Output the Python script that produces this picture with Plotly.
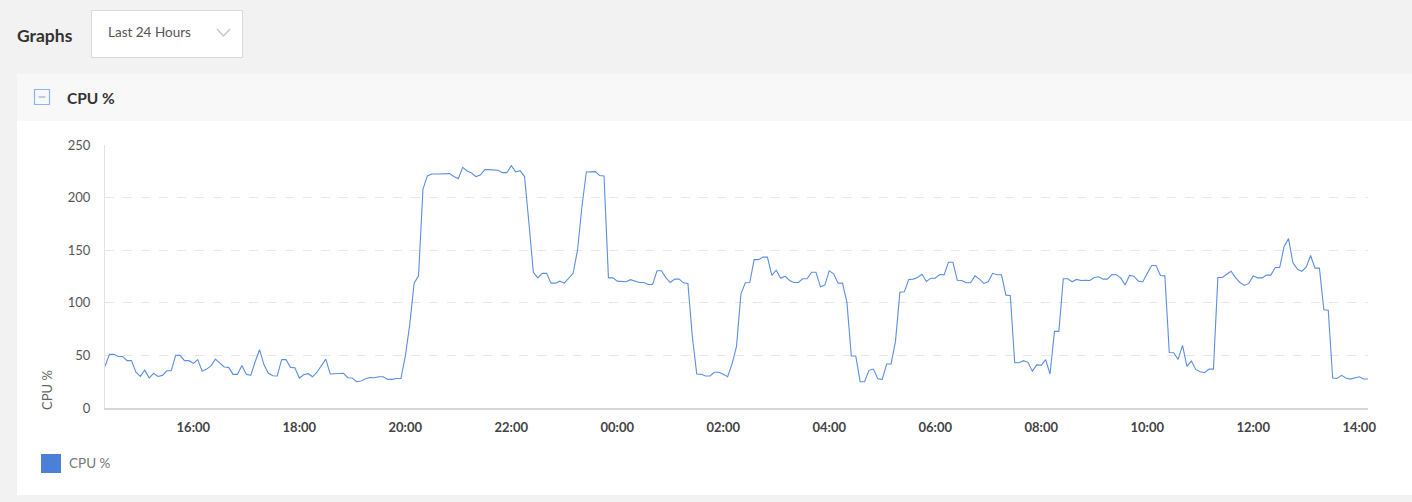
import pandas as pd
import plotly.graph_objects as go

# ---- data ----
start_time = "2024-01-01 14:20"
interval = "5min"
cpu_values = [
    39.6, 51, 51, 49, 49, 45, 45, 34, 30, 36, 28.5, 33, 30, 31, 35.4, 35.4, 50, 50, 45, 45,
    42.4, 46, 35, 37, 40, 46.5, 42.7, 39, 38.6, 32, 32, 40.5, 32, 31, 44, 55.4, 41, 33,
    30.7, 30.4, 46, 46, 38.6, 38.3, 28.5, 31.6, 32.6, 29.7, 34, 40.5, 46.5, 32.3, 32.3, 33,
    33, 28.8, 28.5, 25, 25.6, 27.8, 29, 28.8, 29.7, 29.7, 27.2, 27.2, 28, 28, 49, 79, 118.7,
    125.6, 208, 220.6, 222.5, 222.5, 222.5,
    222.8, 222.8, 220, 218, 228.8, 225.3, 223.4, 220, 221.5, 226.6, 226.6, 226, 226, 223.7,
    223.7, 230.4, 224.4, 225.6, 220, 175.6, 129, 123.7, 128, 128, 118.7, 118.7, 120.6, 118.7,
    123.4, 128, 150, 191.5, 224.4, 224.7, 224.7, 221, 220.6, 123.7,
    123.7, 120.6, 120, 120, 122, 121, 119.3, 119.3, 117.4, 117.4, 130.4, 130.4, 124, 119.3,
    122.5, 122.5, 119, 118.4, 68, 32.3, 32, 30.4, 30.4, 34, 34, 32, 29.7, 42, 58.5, 108.5,
    119, 119.3, 141, 141, 143.4, 143.4, 126, 131, 123.4,
    125.3, 121.2, 119.3, 119.3, 122.8, 122.8, 129, 129, 115.2, 116.8, 130.4, 127.5, 118.7,
    118.7, 100.6, 49.4, 49.4, 25, 25, 35.8, 37, 27.8, 27.2, 41.8, 41.8, 63.3, 110, 110.4,
    122.2, 122.5, 124, 127.2, 120.2, 123.4, 123.4, 126.9, 126.6, 138.6,
    138.6, 121.5, 121.2, 119, 119, 125.6, 122.5, 118.4, 120, 128, 126.6, 126.6, 107.3, 107,
    43, 43, 45, 43.4, 35, 41, 40.5, 46, 32.3, 72.8, 72.8, 122.8, 122.8, 120, 122.2, 121.2,
    121.5, 121.2, 124, 124.7, 122.5, 122.5, 126.9, 126.6,
    123.7, 117, 126, 125.3, 120.6, 120, 127.8, 135.4, 135.4, 126, 125.6, 52.8, 52.5, 46.2,
    59.5, 39.6, 44.6, 36.7, 34.5, 33.5, 37, 37, 124, 124, 127.2, 130, 124, 119.3, 116.5,
    118.4, 125.6, 123.7, 123.7, 126.3, 126.3, 133.5, 133.5, 153.5, 161,
    138, 132, 130, 133.9, 145, 133, 133, 93.4, 93, 28.5, 28, 31, 28.5, 27.5, 28.5, 29.7,
    27.5, 27.5,
]
y_ticks = [0, 50, 100, 150, 200, 250]
series_name = "CPU %"
panel_title = "CPU %"
page_title = "Graphs"
range_label = "Last 24 Hours"

times = pd.date_range(start_time, periods=len(cpu_values), freq=interval)

# ---- layout geometry (pixels) ----
W, H = 1412, 502
L, R, T, B = 105, 44, 145, 94
PW, PH = W - L - R, H - T - B


def px(x):
    return (x - L) / PW


def py(y):
    return 1 - (y - T) / PH


FONT = "Lato, 'Open Sans', sans-serif"
LINE_COLOR = "#5b8fe3"

fig = go.Figure()
fig.add_trace(go.Scatter(
    x=times, y=cpu_values, mode="lines", name=series_name,
    line=dict(color=LINE_COLOR, width=1.1), showlegend=False,
    hoverinfo="x+y",
))

shapes = []
# panel body (white)
shapes.append(dict(type="rect", xref="paper", yref="paper", x0=px(17), x1=px(1420),
                   y0=py(495), y1=py(121), fillcolor="#ffffff", line=dict(width=0), layer="below"))
# panel header strip
shapes.append(dict(type="rect", xref="paper", yref="paper", x0=px(17), x1=px(1420),
                   y0=py(121), y1=py(74), fillcolor="#f8f8f8", line=dict(width=0), layer="below"))
# dropdown box
shapes.append(dict(type="rect", xref="paper", yref="paper", x0=px(91.5), x1=px(242.5),
                   y0=py(57.5), y1=py(10.5), fillcolor="#ffffff",
                   line=dict(color="#d9d9d9", width=1), layer="below"))
# chevron
shapes.append(dict(type="path", xref="paper", yref="paper",
                   path=f"M {px(217)} {py(29)} L {px(223.5)} {py(36)} L {px(230)} {py(29)}",
                   line=dict(color="#c4c4c4", width=1.3)))
# minus icon box
shapes.append(dict(type="rect", xref="paper", yref="paper", x0=px(34.5), x1=px(49.5),
                   y0=py(104.5), y1=py(89.5), fillcolor="rgba(0,0,0,0)",
                   line=dict(color="#8fb3ec", width=1.2)))
shapes.append(dict(type="line", xref="paper", yref="paper", x0=px(38.5), x1=px(45.5),
                   y0=py(97), y1=py(97), line=dict(color="#8fb3ec", width=1.2)))
# legend swatch
shapes.append(dict(type="rect", xref="paper", yref="paper", x0=px(41), x1=px(61),
                   y0=py(473), y1=py(454), fillcolor="#4a80d8", line=dict(width=0)))

annotations = [
    dict(text=f"<b>{page_title}</b>", x=px(15), y=py(35), xanchor="left", yanchor="middle",
         font=dict(family=FONT, size=17.5, color="#333333")),
    dict(text=range_label, x=px(106), y=py(32), xanchor="left", yanchor="middle",
         font=dict(family=FONT, size=13.5, color="#555555")),
    dict(text=f"<b>{panel_title}</b>", x=px(65), y=py(98), xanchor="left", yanchor="middle",
         font=dict(family=FONT, size=15.5, color="#333333")),
    dict(text=series_name, x=px(47), y=py(390), xanchor="center", yanchor="middle",
         textangle=-90, font=dict(family=FONT, size=13, color="#666666")),
    dict(text=series_name, x=px(67), y=py(463), xanchor="left", yanchor="middle",
         font=dict(family=FONT, size=13.5, color="#777777")),
]
for a in annotations:
    a.update(xref="paper", yref="paper", showarrow=False)

fig.update_layout(
    width=W, height=H,
    margin=dict(l=L, r=R, t=T, b=B, pad=0),
    paper_bgcolor="#f2f2f2",
    plot_bgcolor="#ffffff",
    shapes=shapes,
    annotations=annotations,
    showlegend=False,
    font=dict(family=FONT),
)
fig.update_xaxes(
    range=[times[0], times[-1]],
    type="date",
    tick0="2024-01-01 16:00",
    dtick=2 * 3600 * 1000,
    tickformat="%H:%M",
    showgrid=False,
    showline=True, linecolor="#d6d6d6", linewidth=2,
    ticks="", zeroline=False,
    tickfont=dict(family=FONT, size=13, color="#444444", weight="bold"),
    ticklabelstandoff=6,
    fixedrange=True,
)
fig.update_yaxes(
    range=[0, 250],
    tickvals=y_ticks,
    showgrid=True, gridcolor="#e6e6e6", griddash="dash", gridwidth=1,
    showline=True, linecolor="#e2e2e2", linewidth=1,
    ticks="", zeroline=False,
    tickfont=dict(family=FONT, size=13, color="#555555"),
    ticklabelstandoff=11,
    fixedrange=True,
)

fig.write_html(
    "out.html",
    config={"displayModeBar": False},
    post_script="document.body.style.margin='0';document.body.style.overflow='hidden';"
                "document.body.style.background='#f2f2f2';",
)
